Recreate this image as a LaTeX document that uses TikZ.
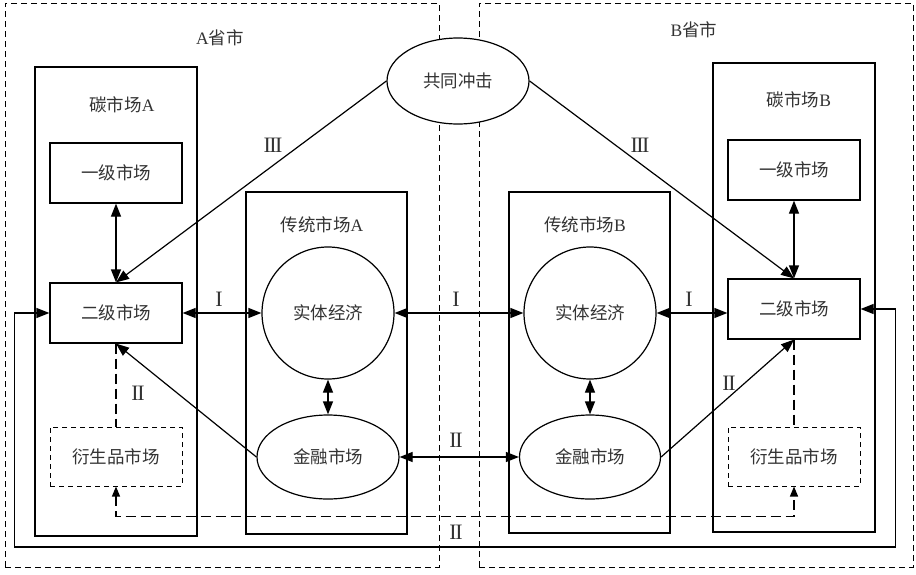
\documentclass[tikz,border=0pt]{standalone}
\usepackage{fontspec}
\setmainfont{Liberation Serif}
\newfontfamily\cjk{Noto Sans CJK SC}
\usetikzlibrary{arrows.meta,shapes.geometric}
\newcommand{\RomI}{I}
\newcommand{\RomII}{I\kern-1.5pt I}
\newcommand{\RomIII}{I\kern-1.5pt I\kern-1.5pt I}
\begin{document}
\begin{tikzpicture}[x=1pt,y=-1pt,
  every node/.style={font=\fontsize{17.5}{20}\selectfont, text=black!80},
  provbox/.style={draw, line width=1pt, dash pattern=on 6pt off 4pt, inner sep=0pt},
  bigbox/.style={draw, line width=1.2pt, inner sep=0pt},
  mktbox/.style={draw, line width=1.2pt, minimum width=132pt, minimum height=60pt, inner sep=0pt},
  dermkt/.style={draw, line width=1pt, dash pattern=on 5pt off 4pt, minimum width=132pt, minimum height=59pt, inner sep=0pt},
  circ/.style={draw, circle, line width=1.2pt, minimum size=132pt, inner sep=0pt},
  ell/.style={draw, ellipse, line width=1.2pt, minimum width=142pt, minimum height=84pt, inner sep=0pt, fill=white},
  dbl/.style={{Triangle[length=13pt,width=10pt]}-{Triangle[length=13pt,width=10pt]}, line width=1.2pt},
  sgl/.style={-{Triangle[length=13pt,width=10pt]}, line width=1.2pt},
  dashline/.style={line width=1.2pt, dash pattern=on 10pt off 5pt},
  dashdbl/.style={{Triangle[length=10pt,width=8pt]}-{Triangle[length=10pt,width=8pt]}, line width=1.2pt, dash pattern=on 10pt off 5pt},
  lab/.style={inner sep=1pt},
  rom/.style={inner sep=1pt, font=\fontsize{22}{24}\selectfont}
]
\useasboundingbox (0,0) rectangle (916,574);
\fill[white] (0,0) rectangle (916,574);

% provinces
\node[provbox, minimum width=434pt, minimum height=564pt] (provA) at (222,285) {};
\node[provbox, minimum width=434pt, minimum height=564pt] (provB) at (696,285) {};
\node[lab] (labA) at (220,38) {A{\cjk 省市}};
\node[lab] (labB) at (694,30) {B{\cjk 省市}};

% carbon market A
\node[bigbox, minimum width=162pt, minimum height=469pt] (carbA) at (116,301.5) {};
\node[lab] (labCA) at (122,105) {{\cjk 碳市场}A};
\node[mktbox] (primA) at (116,173) {\cjk 一级市场};
\node[mktbox] (secA) at (116,313) {\cjk 二级市场};
\node[dermkt] (derA) at (116,456.5) {\cjk 衍生品市场};

% traditional market A
\node[bigbox, minimum width=161pt, minimum height=342pt] (tradA) at (326.5,363) {};
\node[lab] (labTA) at (322,225) {{\cjk 传统市场}A};
\node[circ] (realA) at (328,313) {\cjk 实体经济};
\node[ell] (finA) at (328,457) {\cjk 金融市场};

% carbon market B
\node[bigbox, minimum width=162pt, minimum height=469pt] (carbB) at (794,297.5) {};
\node[lab] (labCB) at (799,100) {{\cjk 碳市场}B};
\node[mktbox] (primB) at (794,170) {\cjk 一级市场};
\node[mktbox] (secB) at (794,309) {\cjk 二级市场};
\node[dermkt] (derB) at (794,456.5) {\cjk 衍生品市场};

% traditional market B
\node[bigbox, minimum width=161pt, minimum height=341pt] (tradB) at (589.5,362.5) {};
\node[lab] (labTB) at (585,225) {{\cjk 传统市场}B};
\node[circ] (realB) at (590,313) {\cjk 实体经济};
\node[ell, minimum width=141pt] (finB) at (590,457) {\cjk 金融市场};

% common shock
\node[ell, minimum height=86pt] (shock) at (458,81) {\cjk 共同冲击};

% connectors
\draw[dbl] (primA) -- (secA);
\draw[dbl] (primB) -- (secB);
\draw[sgl] (shock.west) -- (secA.north);
\draw[sgl] (shock.east) -- (secB.north);
\draw[dbl] (secA.east) -- (realA.west);
\draw[dbl] (realA.east) -- (realB.west);
\draw[dbl] (realB.east) -- (secB.west |- realB.east);
\draw[dbl] (realA) -- (finA);
\draw[dbl] (realB) -- (finB);
\draw[dbl] (finA.east) -- (finB.west);
\draw[sgl] (finA.west) -- (secA.south);
\draw[sgl] (finB.east) -- (secB.south);
\draw[dashline] (secA.south) -- (derA.north);
\draw[dashline] (secB.south) -- (derB.north);
\draw[dashdbl] (derA.south) -- ++(0,30) -| (derB.south);
\draw[dbl] (secA.west) -- ++(-35,0) -- ++(0,234) -| ([xshift=35pt]secB.east) -- (secB.east);

% connector labels
\node[rom] (l3a) at (273,145) {\RomIII};
\node[rom] (l3b) at (640,145) {\RomIII};
\node[rom] (l1a) at (219,299) {\RomI};
\node[rom] (l1b) at (456,299) {\RomI};
\node[rom] (l1c) at (689,299) {\RomI};
\node[rom] (l2a) at (138,393) {\RomII};
\node[rom] (l2b) at (729,383) {\RomII};
\node[rom] (l2c) at (456,440) {\RomII};
\node[rom] (l2d) at (456,532) {\RomII};
\end{tikzpicture}
\end{document}
